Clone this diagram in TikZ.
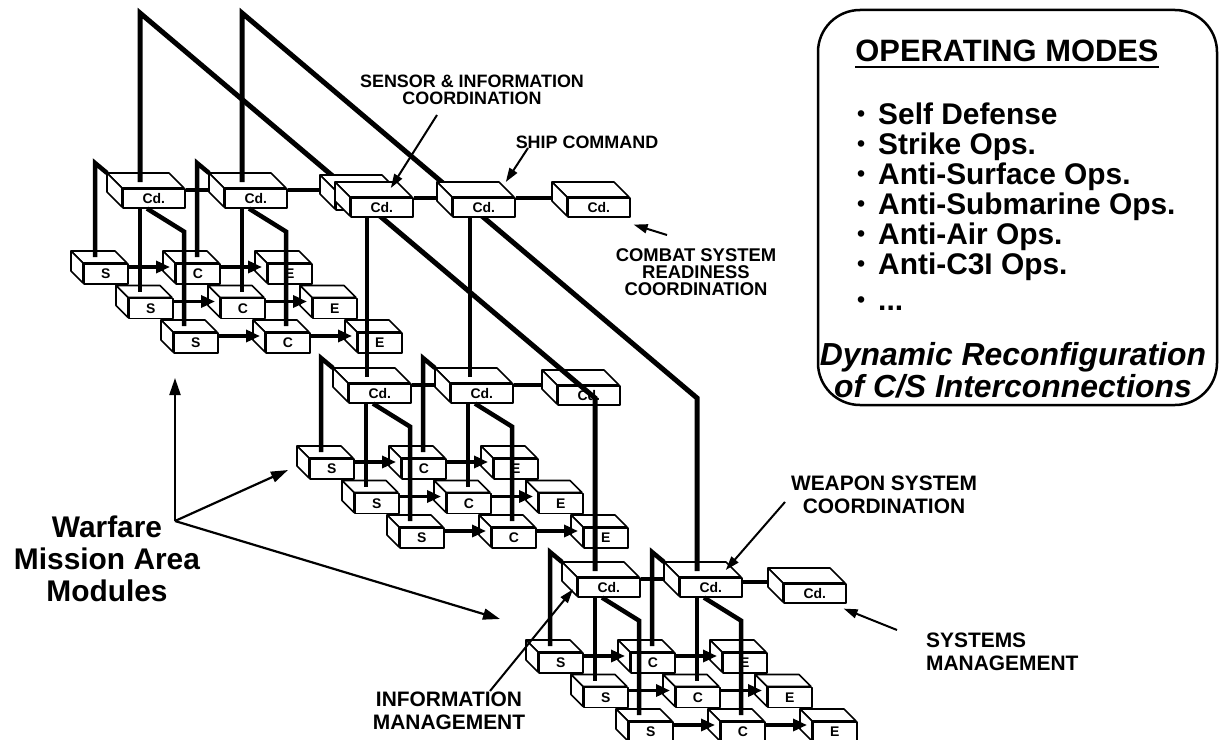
\documentclass[tikz,border=0pt]{standalone}
\usepackage{fontspec}
\setmainfont{Liberation Sans}
\usetikzlibrary{calc,arrows.meta}

\tikzset{
  boite/.style={fill=white, draw=black, line width=1.6bp, line join=round},
  face/.style={boite, inner sep=0pt, font=\bfseries\fontsize{14}{14}\selectfont},
  lien/.style={line width=4.5bp},
  gros/.style={line width=5bp},
  fleche/.style={line width=3.8bp, -{Triangle[length=14bp,width=12bp]}},
  pointe/.style={line width=2bp, -{Triangle[length=14bp,width=9bp]}},
  grande/.style={line width=2.2bp, -{Triangle[length=17bp,width=11bp]}},
  etiq/.style={font=\bfseries\fontsize{18}{17}\selectfont, align=center, inner sep=0pt},
  etiqb/.style={font=\bfseries\fontsize{21}{23}\selectfont, align=center, inner sep=0pt},
  mode/.style={font=\bfseries\fontsize{30}{30}\selectfont, inner sep=0pt, anchor=base west},
}

\begin{document}
\begin{tikzpicture}[x=1bp, y=-1bp]
  \useasboundingbox (0,0) rectangle (1220,740);

  \newcommand{\mkboite}[7]{%
    %faces du dessus et de gauche
    \filldraw[boite] (#2,#3) -- ++(-#6,-#6) -- ++(#4,0) -- (#2+#4,#3) -- cycle;
    \filldraw[boite] (#2,#3) -- ++(-#6,-#6) -- ++(0,#5) -- (#2,#3+#5) -- cycle;
    %face avant
    \node[face, minimum width=#4bp, minimum height=#5bp, anchor=north west] (#1) at (#2,#3) {#7};
  }

  \newcommand{\mkmodule}[3]{%
    %boites S C E, de l'arriere vers l'avant
    \foreach \r in {1,2,3} {
      \pgfmathsetmacro{\bx}{#2-39+45*(\r-1)}
      \pgfmathsetmacro{\by}{#3+75+34.5*(\r-1)}
      \mkboite{#1S\r}{\bx}{\by}{44}{20}{12}{S}
      \mkboite{#1C\r}{\bx+92}{\by}{44}{20}{12}{C}
      \mkboite{#1E\r}{\bx+184}{\by}{44}{20}{12}{E}
    }
    %boites de coordination
    \mkboite{#1Cd1}{#2}{#3}{62}{19}{15}{Cd.}
    \mkboite{#1Cd2}{#2+102}{#3}{62}{19}{15}{Cd.}
    %tracer les liaisons
    \draw[lien] ($(#1Cd1.north east)+(0,2)$) -- ($(#1Cd2.north west)+(-15,2)$);
    \draw[lien] ($(#1S1.north west)+(12,-6)$) -- ($(#1Cd1.north west)+(-27,-25)$) -- ($(#1Cd1.north west)+(-15,-15)$);
    \draw[lien] ($(#1Cd1.south west)+(18,0)$) -- ($(#1S2.north west)+(12,-6)$);
    \draw[lien] ($(#1Cd1.south west)+(25,0)$) -- ($(#1Cd1.south west)+(62,23)$) -- ($(#1S3.north west)+(11,-6)$);
    \draw[lien] ($(#1C1.north west)+(22,-6)$) -- ($(#1Cd2.north west)+(-27,-25)$) -- ($(#1Cd2.north west)+(-15,-15)$);
    \draw[lien] ($(#1Cd2.south west)+(18,0)$) -- ($(#1C2.north west)+(22,-6)$);
    \draw[lien] ($(#1Cd2.south west)+(25,0)$) -- ($(#1Cd2.south west)+(62,23)$) -- ($(#1C3.north west)+(21,-6)$);
    %fleches S -> C -> E
    \foreach \r in {1,2,3} {
      \draw[fleche] ($(#1S\r.north east)+(0,4)$) -- ($(#1C\r.north west)+(-5,4)$);
      \draw[fleche] ($(#1C\r.north east)+(0,4)$) -- ($(#1E\r.north west)+(-5,4)$);
    }
  }

  \newcommand{\puce}{\raisebox{2.5bp}{\fontsize{23}{23}\selectfont •}\hspace{13bp}}

  \mkmodule{b}{577}{577}
  \mkmodule{m}{348}{383}
  \mkmodule{h}{122}{188}

  \mkboite{mCd3}{557}{385}{62}{19}{15}{Cd.}
  \mkboite{bCd3}{783}{583}{62}{19}{15}{Cd.}

  %grandes liaisons
  \coordinate (pic1) at ($(hCd1.north west)+(18,-175)$);
  \coordinate (coude1) at ($(bCd1.north west)+(18,-179)$);
  \coordinate (pic2) at ($(hCd2.north west)+(18,-175)$);
  \coordinate (coude2) at ($(bCd2.north west)+(18,-179)$);
  \draw[gros] ($(hCd1.north west)+(18,-6)$) -- (pic1) -- (coude1) -- ($(bCd1.north west)+(18,-6)$);
  \draw[gros] ($(hCd2.north west)+(18,-6)$) -- (pic2) -- (coude2) -- ($(bCd2.north west)+(18,-6)$);

  \mkboite{hCd3b}{335}{190}{62}{19}{15}{}
  \mkboite{hCd3}{350}{197}{62}{19}{15}{Cd.}
  \mkboite{hCd4}{452}{197}{62}{19}{15}{Cd.}
  \mkboite{hCd5}{567}{197}{62}{19}{15}{Cd.}

  \draw[lien] ($(hCd2.north east)+(0,2)$) -- ($(hCd3b.north west)+(-15,0)$);
  \draw[lien] ($(hCd3.north east)+(0,1)$) -- ($(hCd4.north west)+(-15,1)$);
  \draw[lien] ($(hCd4.north east)+(0,1)$) -- ($(hCd5.north west)+(-15,1)$);
  \draw[lien] ($(mCd2.north east)+(0,2)$) -- ($(mCd3.north west)+(-15,0)$);
  \draw[lien] ($(bCd2.north east)+(0,5)$) -- ($(bCd3.north west)+(-15,-1)$);
  \draw[lien] ($(hCd3.south west)+(17,0)$) -- ($(mCd1.north west)+(19,-6)$);
  \draw[lien] ($(hCd4.south west)+(18,0)$) -- ($(mCd2.north west)+(20,-6)$);

  %etiquettes
  \node[etiq] (capteur) at (472,90) {SENSOR \& INFORMATION\\COORDINATION};
  \node[etiq] (commande) at (587,142) {SHIP COMMAND};
  \node[etiq, font=\bfseries\fontsize{18.5}{17}\selectfont] (combat) at (696,272) {COMBAT SYSTEM\\READINESS\\COORDINATION};
  \node[etiqb] (arme) at (884,495) {WEAPON SYSTEM\\COORDINATION};
  \node[etiqb, align=left, anchor=west] (gestion) at (926,652) {SYSTEMS\\MANAGEMENT};
  \node[etiqb] (info) at (449,711) {INFORMATION\\MANAGEMENT};
  \node[font=\bfseries\fontsize{30}{32}\selectfont, align=center, inner sep=0pt] (modules) at (107,559) {Warfare\\Mission Area\\Modules};

  \coordinate (capteur-p) at (437,115);
  \coordinate (commande-p) at (528,148);
  \coordinate (combat-p) at (667,235);
  \coordinate (arme-p) at (785,502);
  \coordinate (gestion-p) at (897,630);
  \coordinate (info-p) at (490,691);
  \draw[pointe] (capteur-p) -- ($(hCd3.north)+(9,-9)$);
  \draw[pointe] (commande-p) -- ($(hCd4.north)+(22,-15)$);
  \draw[pointe] (combat-p) -- ($(hCd5.south east)+(3,7)$);
  \draw[pointe] (arme-p) -- ($(bCd2.north)+(15,-7)$);
  \draw[pointe] (gestion-p) -- ($(bCd3.south east)+(-3,5)$);
  \draw[pointe] (info-p) -- ($(bCd1.west)+(-4,2)$);

  %fleches des modules
  \coordinate (origine) at (175,521);
  \coordinate (vers-h) at (175,378);
  \coordinate (vers-m) at (288,470);
  \coordinate (vers-b) at (500,619);
  \draw[grande] (origine) -- (vers-h);
  \draw[grande] (origine) -- (vers-m);
  \draw[grande] (origine) -- (vers-b);

  %modes
  \draw[line width=2.5bp, rounded corners=42bp] (818,10) rectangle (1217,405);
  \node[font=\bfseries\fontsize{31}{31}\selectfont, inner sep=0pt, anchor=base] (titre) at (1007,62) {OPERATING MODES};
  \draw[line width=2.6bp] ($(titre.base west)+(0,5)$) -- ($(titre.base east)+(0,5)$);
  \foreach \txt [count=\i] in {Self Defense, Strike Ops., Anti-Surface Ops., Anti-Submarine Ops., Anti-Air Ops., Anti-C3I Ops.}
    \node[mode] (mode\i) at (857,94+30*\i) {\puce\txt};
  \node[mode] (mode7) at (857,310) {\puce...};
  \node[font=\bfseries\itshape\fontsize{32}{32}\selectfont, inner sep=0pt, anchor=base] (dyn1) at (1013,365) {Dynamic Reconfiguration};
  \node[font=\bfseries\itshape\fontsize{32}{32}\selectfont, inner sep=0pt, anchor=base] (dyn2) at (1013,397) {of C/S Interconnections};
\end{tikzpicture}
\end{document}
